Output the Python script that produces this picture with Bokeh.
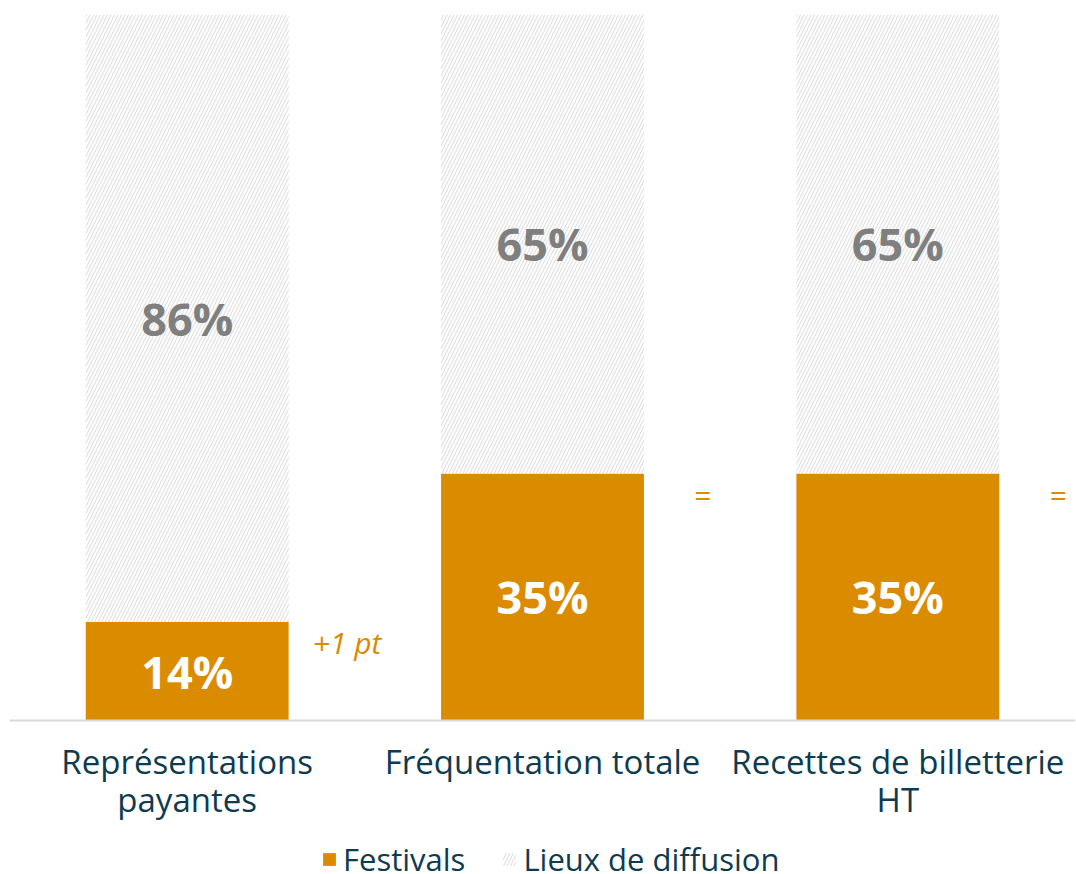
from bokeh.plotting import figure
from bokeh.models import ColumnDataSource, Range1d, FactorRange, Legend, LegendItem, Span
from bokeh.core.properties import value
from bokeh.transform import dodge
from bokeh.embed import file_html
from bokeh.resources import INLINE

categories = ["Représentations payantes", "Fréquentation totale", "Recettes de billetterie HT"]
category_labels = ["Représentations\npayantes", "Fréquentation totale", "Recettes de billetterie\nHT"]
festivals = [0.14, 0.35, 0.35]
lieux = [0.86, 0.65, 0.65]
festivals_labels = ["14%", "35%", "35%"]
lieux_labels = ["86%", "65%", "65%"]
evolution = ["+1 pt", "=", "="]

ORANGE = "#DB8B00"
TEXT = "#0E3B4F"
GRAY = "#7F7F7F"
FONT = "Open Sans"

BAR_PX = 706      # pixel height of the 0..100 % span
FRAME_H = 858     # frame extends below the baseline to hold labels and legend
y_start = -(FRAME_H - BAR_PX) / BAR_PX

p = figure(x_range=FactorRange(*categories, range_padding=0), y_range=Range1d(y_start, 1),
           frame_width=1066, frame_height=FRAME_H, output_backend="svg", toolbar_location=None,
           min_border_left=9, min_border_right=0, min_border_top=14, min_border_bottom=0)

src = ColumnDataSource(dict(cat=categories, catlab=category_labels,
                            fest=festivals, lieux=lieux,
                            top=[f + l for f, l in zip(festivals, lieux)],
                            fmid=[f / 2 for f in festivals],
                            lmid=[f + l / 2 for f, l in zip(festivals, lieux)],
                            flab=festivals_labels, llab=lieux_labels,
                            evo=evolution,
                            evo_y=[f - 0.03 for f in festivals],
                            zero=[0] * len(categories)))

r_f = p.vbar(x="cat", bottom=0, top="fest", width=0.571, source=src,
             fill_color=ORANGE, line_color=None)
r_l = p.vbar(x="cat", bottom="fest", top="top", width=0.571, source=src,
             fill_color="white", line_color=None,
             hatch_pattern="/", hatch_color="#D9D9D9", hatch_scale=7, hatch_weight=1)

p.add_layout(Span(location=0, dimension="width", line_color="#D9D9D9", line_width=2))

p.text(x="cat", y="fmid", text="flab", source=src, text_align="center", text_baseline="middle",
       text_color="white", text_font=value(FONT), text_font_style="bold", text_font_size="45px")
p.text(x="cat", y="lmid", text="llab", source=src, text_align="center", text_baseline="middle",
       text_color=GRAY, text_font=value(FONT), text_font_style="bold", text_font_size="45px")

p.text(x=dodge("cat", 0.45, range=p.x_range), y="evo_y", text="evo", source=src,
       text_align="center", text_baseline="middle", text_color=ORANGE,
       text_font=value(FONT), text_font_style="italic", text_font_size="30px")

# category labels under the baseline
p.text(x="cat", y="zero", text="catlab", source=src, text_align="center", text_baseline="top",
       y_offset=18, text_color=TEXT, text_font=value(FONT), text_font_size="33px",
       text_line_height=0.85)

p.grid.visible = False
p.xaxis.visible = False
p.yaxis.visible = False
p.outline_line_color = None

legend = Legend(items=[LegendItem(label="Festivals", renderers=[r_f]),
                       LegendItem(label="Lieux de diffusion", renderers=[r_l])],
                orientation="horizontal", location=(312, -8),
                label_text_font=FONT, label_text_font_size="31px", label_text_color=TEXT,
                glyph_width=16, glyph_height=16, label_standoff=6, spacing=36,
                border_line_color=None, background_fill_alpha=0, padding=0, margin=0)
p.add_layout(legend, "center")

open("out.html", "w").write(file_html(p, INLINE))
